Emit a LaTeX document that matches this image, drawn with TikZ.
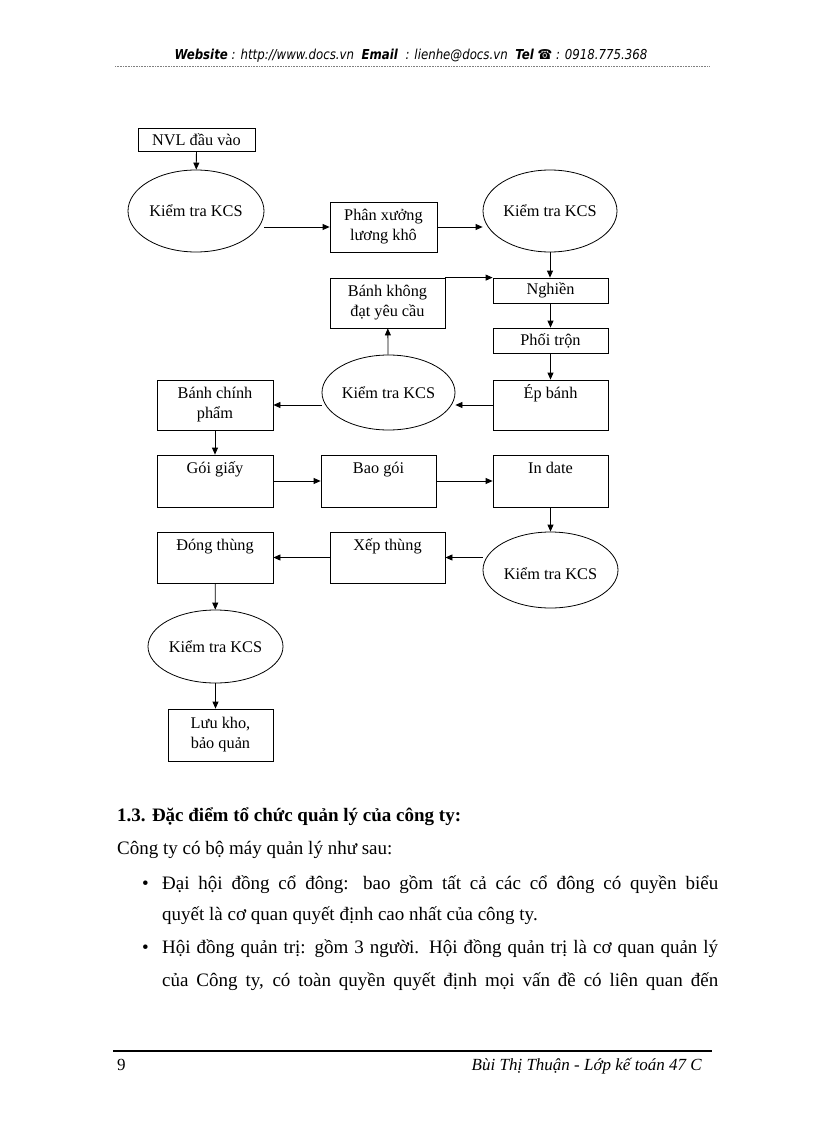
\documentclass[tikz,border=0pt]{standalone}
\usepackage{fontspec}
\setmainfont{Liberation Serif}
\newfontfamily\hdrfont[FakeStretch=0.86]{DejaVu Sans}
\usetikzlibrary{shapes.geometric,arrows.meta}
\tikzset{
  box/.style={draw, line width=0.8pt, inner sep=0pt, align=center, font=\fontsize{16.3}{20}\selectfont},
  oval/.style={draw, ellipse, line width=0.8pt, inner sep=0pt, align=center, font=\fontsize{16.3}{20}\selectfont},
  arr/.style={-{Triangle[length=7pt,width=6pt]}, line width=0.8pt},
  body/.style={inner sep=0pt, anchor=base west, font=\fontsize{19}{22}\selectfont}
}
\begin{document}
\begin{tikzpicture}[x=1pt,y=-1pt]
\useasboundingbox (0,0) rectangle (816,1123);
% header
\node[inner sep=0pt] (hdr) at (411,56) {\resizebox{473pt}{!}{\hdrfont\itshape\fontsize{11}{13}\selectfont\textbf{Website} : http://www.docs.vn\ \ \textbf{Email}\ \ : lienhe@docs.vn\ \ \textbf{Tel} \textbf{☎} : 0918.775.368}};
\draw[line width=0.6pt, gray, densely dotted] (115,66.5) -- (710,66.5);
% flowchart
\node[box, minimum width=117pt, minimum height=23pt] (nvl) at (196.5,139.5) {NVL đầu vào};
\node[oval, minimum width=136pt, minimum height=82pt] (A) at (196,211) {Kiểm tra KCS};
\node[box, minimum width=107pt, minimum height=50pt] (px) at (383.5,227) {Phân xưởng\\lương khô};
\node[oval, minimum width=134pt, minimum height=82pt] (B) at (550,211) {Kiểm tra KCS};
\node[box, minimum width=115pt, minimum height=50pt] (bkd) at (387.5,303) {Bánh không\\đạt yêu cầu};
\node[box, minimum width=115pt, minimum height=25pt] (ng) at (550.5,290.5) {Nghiền};
\node[box, minimum width=115pt, minimum height=25pt] (pt) at (550.5,340.5) {Phối trộn};
\node[box, minimum width=115pt, minimum height=50pt] (eb) at (550.5,405) {Ép bánh\\\strut};
\node[oval, minimum width=133pt, minimum height=75pt] (C) at (388.5,392.5) {Kiểm tra KCS};
\node[box, minimum width=116pt, minimum height=50pt] (bcp) at (215,405) {Bánh chính\\phẩm};
\node[box, minimum width=116pt, minimum height=52pt] (gg) at (215,481) {Gói giấy\\\strut};
\node[box, minimum width=115pt, minimum height=52pt] (bg) at (378.5,481) {Bao gói\\\strut};
\node[box, minimum width=115pt, minimum height=52pt] (id) at (550.5,481) {In date\\\strut};
\node[oval, minimum width=135pt, minimum height=76pt] (D) at (550.5,570) {\\Kiểm tra KCS};
\node[box, minimum width=115pt, minimum height=51pt] (xt) at (387.5,557.5) {Xếp thùng\\\strut};
\node[box, minimum width=116pt, minimum height=51pt] (dt) at (215,557.5) {Đóng thùng\\\strut};
\node[oval, minimum width=135pt, minimum height=73pt] (E) at (215.5,646.5) {Kiểm tra KCS};
\node[box, minimum width=105pt, minimum height=52pt] (lk) at (220.5,735) {Lưu kho,\\bảo quản};
% connectors
\draw[arr] (nvl) -- (A);
\draw[arr] (px.west -| A.east) -- (px.west);
\draw[arr] (px.east) -- (px.east -| B.west);
\draw[arr] (B.south) -- (B.south |- ng.north);
\draw[arr] (bkd.north east) -- (ng.north west);
\draw[arr] (ng) -- (pt);
\draw[arr] (pt) -- (eb);
\draw[arr] (eb.west) -- (eb.west -| C.east);
\draw[arr] (C) -- (bkd);
\draw[arr] (bcp.east -| C.west) -- (bcp.east);
\draw[arr] (bcp) -- (gg);
\draw[arr] (gg) -- (bg);
\draw[arr] (bg) -- (id);
\draw[arr] (id) -- (D);
\draw[arr] (xt.east -| D.west) -- (xt.east);
\draw[arr] (xt) -- (dt);
\draw[arr] (dt) -- (E);
\draw[arr] (E.south) -- (E.south |- lk.north);
% text section
\node[body, font=\fontsize{19}{22}\selectfont\bfseries] (h13) at (117,821) {1.3. Đặc điểm tổ chức quản lý của công ty:};
\node[body] (intro) at (117,854) {Công ty có bộ máy quản lý như sau:};
\node[body] (b1) at (142,889) {\textbullet};
\node[body] (l1) at (162,889) {\makebox[556pt][s]{Đại hội đồng cổ đông: bao gồm tất cả các cổ đông có quyền biểu}};
\node[body] (l2) at (162,920) {quyết là cơ quan quyết định cao nhất của công ty.};
\node[body] (b2) at (142,953) {\textbullet};
\node[body] (l3) at (162,953) {\makebox[556pt][s]{Hội đồng quản trị: gồm 3 người. Hội đồng quản trị là cơ quan quản lý}};
\node[body] (l4) at (162,986) {\makebox[556pt][s]{của Công ty, có toàn quyền quyết định mọi vấn đề có liên quan đến}};
% footer
\draw[line width=2pt] (113,1051) -- (712,1051);
\node[body, font=\fontsize{17}{20}\selectfont] (pg) at (117,1070) {9};
\node[inner sep=0pt, anchor=base east, font=\fontsize{17}{20}\selectfont\itshape] (auth) at (702,1070) {Bùi Thị Thuận - Lớp kế toán 47 C};
\end{tikzpicture}
\end{document}
